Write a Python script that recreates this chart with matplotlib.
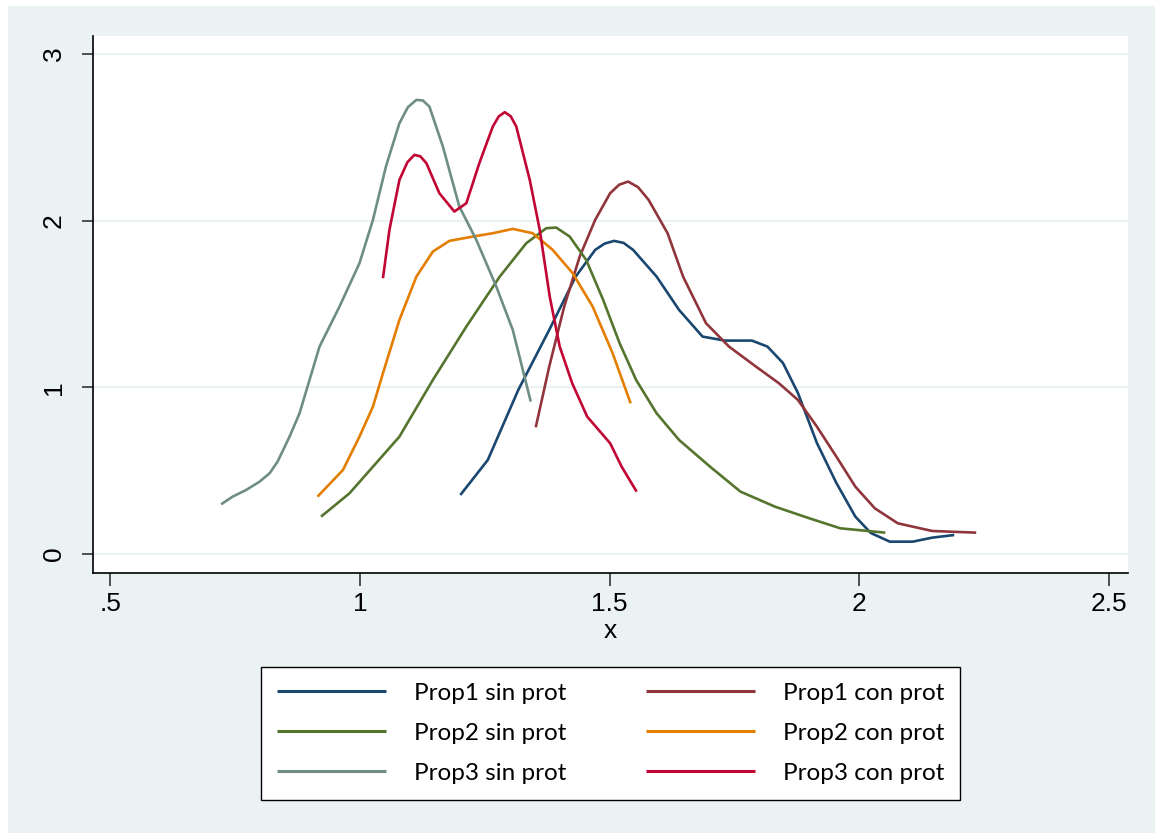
import matplotlib
matplotlib.use("Agg")
import matplotlib.pyplot as plt
from matplotlib.patches import Rectangle

# kernel density curves
p1_sin_x = [1.201, 1.256, 1.317, 1.379, 1.432, 1.471, 1.49, 1.509, 1.528, 1.547, 1.594, 1.639,
            1.686, 1.731, 1.785, 1.816, 1.847, 1.877, 1.915, 1.954, 1.992, 2.023, 2.061, 2.107,
            2.146, 2.19]
p1_sin_y = [0.354, 0.564, 0.984, 1.344, 1.664, 1.824, 1.862, 1.878, 1.866, 1.824, 1.664, 1.464,
            1.304, 1.28, 1.28, 1.244, 1.146, 0.966, 0.666, 0.426, 0.224, 0.126, 0.074, 0.074,
            0.098, 0.114]

p1_con_x = [1.352, 1.379, 1.409, 1.44, 1.471, 1.501, 1.519, 1.537, 1.557, 1.578, 1.616, 1.647,
            1.693, 1.739, 1.793, 1.839, 1.877, 1.915, 1.954, 1.992, 2.031, 2.077, 2.146, 2.234]
p1_con_y = [0.76, 1.124, 1.484, 1.784, 2.004, 2.164, 2.215, 2.234, 2.2, 2.124, 1.924, 1.664,
            1.384, 1.244, 1.124, 1.024, 0.924, 0.764, 0.584, 0.404, 0.274, 0.184, 0.138, 0.128]

p2_sin_x = [0.922, 0.979, 1.032, 1.079, 1.146, 1.213, 1.28, 1.333, 1.373, 1.393, 1.42, 1.453,
            1.487, 1.52, 1.553, 1.594, 1.639, 1.701, 1.762, 1.831, 1.9, 1.962, 2.052]
p2_sin_y = [0.224, 0.364, 0.544, 0.704, 1.044, 1.364, 1.664, 1.864, 1.954, 1.958, 1.904, 1.764,
            1.524, 1.264, 1.044, 0.844, 0.684, 0.524, 0.374, 0.284, 0.214, 0.154, 0.128]

p2_con_x = [0.915, 0.966, 0.999, 1.026, 1.046, 1.079, 1.113, 1.146, 1.179, 1.226, 1.266, 1.306,
            1.346, 1.386, 1.426, 1.466, 1.506, 1.542]
p2_con_y = [0.344, 0.504, 0.704, 0.884, 1.084, 1.404, 1.664, 1.814, 1.878, 1.904, 1.924, 1.95,
            1.924, 1.824, 1.684, 1.484, 1.204, 0.904]

p3_sin_x = [0.722, 0.745, 0.772, 0.799, 0.819, 0.835, 0.859, 0.879, 0.919, 0.959, 0.999, 1.026,
            1.052, 1.079, 1.096, 1.113, 1.126, 1.139, 1.166, 1.199, 1.233, 1.273, 1.306, 1.342]
p3_sin_y = [0.298, 0.344, 0.384, 0.434, 0.484, 0.554, 0.704, 0.844, 1.244, 1.484, 1.744, 2.004,
            2.324, 2.584, 2.68, 2.724, 2.72, 2.684, 2.444, 2.084, 1.884, 1.604, 1.344, 0.914]

p3_con_x = [1.046, 1.059, 1.079, 1.095, 1.109, 1.121, 1.133, 1.159, 1.189, 1.213, 1.239, 1.266,
            1.278, 1.29, 1.302, 1.313, 1.34, 1.36, 1.38, 1.4, 1.425, 1.455, 1.501, 1.524, 1.554]
p3_con_y = [1.654, 1.944, 2.244, 2.35, 2.394, 2.385, 2.344, 2.164, 2.054, 2.104, 2.344, 2.564,
            2.625, 2.65, 2.625, 2.564, 2.244, 1.944, 1.544, 1.244, 1.024, 0.824, 0.664, 0.524,
            0.374]

x_ticks = [0.5, 1, 1.5, 2, 2.5]
x_tick_labels = [".5", "1", "1.5", "2", "2.5"]
y_ticks = [0, 1, 2, 3]

BG = "#eaf2f3"

fig = plt.figure(figsize=(11.55, 8.33), dpi=100, facecolor="white")
fig.patches.append(Rectangle((8 / 1155, 0), 1, 1 - 6 / 833, transform=fig.transFigure,
                             facecolor=BG, edgecolor="none", zorder=-10))

ax = fig.add_axes([93.3 / 1155, 1 - 573 / 833, (1128 - 93.3) / 1155, (573 - 36) / 833])
ax.set_facecolor("white")

series = [
    (p1_sin_x, p1_sin_y, "#1a476f", "Prop1 sin prot"),
    (p1_con_x, p1_con_y, "#90353b", "Prop1 con prot"),
    (p2_sin_x, p2_sin_y, "#55752f", "Prop2 sin prot"),
    (p2_con_x, p2_con_y, "#e37e00", "Prop2 con prot"),
    (p3_sin_x, p3_sin_y, "#6e8e84", "Prop3 sin prot"),
    (p3_con_x, p3_con_y, "#c10534", "Prop3 con prot"),
]
lines = {}
for xs, ys, col, lab in series:
    ln, = ax.plot(xs, ys, color=col, lw=1.9, label=lab, solid_capstyle="butt",
                  solid_joinstyle="round")
    lines[lab] = ln

ax.set_xlim(0.466, 2.538)
ax.set_ylim(-0.114, 3.107)

for y in y_ticks:
    ax.axhline(y, color=BG, lw=1.6, zorder=0)

for s in ["top", "right"]:
    ax.spines[s].set_visible(False)
for s in ["left", "bottom"]:
    ax.spines[s].set_color("black")
    ax.spines[s].set_linewidth(1.2)

ax.set_xticks(x_ticks)
ax.set_xticklabels(x_tick_labels)
ax.set_yticks(y_ticks)
ax.tick_params(axis="x", length=9, width=1.2, pad=5, color="#333333")
ax.tick_params(axis="y", length=8, width=1.2, pad=12, color="#333333")
for t in ax.get_xticklabels():
    t.set_fontfamily("Liberation Sans")
    t.set_fontsize(19)
for t in ax.get_yticklabels():
    t.set_fontfamily("Liberation Sans")
    t.set_fontsize(19)
    t.set_rotation(90)
    t.set_va("center")

ax.set_xlabel("x", fontfamily="Liberation Sans", fontsize=19, labelpad=2)

order = ["Prop1 sin prot", "Prop2 sin prot", "Prop3 sin prot",
         "Prop1 con prot", "Prop2 con prot", "Prop3 con prot"]
leg = fig.legend([lines[k] for k in order], order, ncol=2,
                 loc="upper left",
                 bbox_to_anchor=(261 / 1155, 1 - 667 / 833, (960 - 261) / 1155, 0.0),
                 mode="expand", borderaxespad=0, fancybox=False, framealpha=1,
                 edgecolor="black", prop={"family": "Lato", "size": 17.5},
                 handlelength=4.5, handletextpad=1.15, labelspacing=0.78,
                 borderpad=0.65, columnspacing=3.0)
leg.get_frame().set_linewidth(1.0)
for ln in leg.get_lines():
    ln.set_linewidth(2.2)

fig.savefig("out.png", dpi=100, facecolor="white")
